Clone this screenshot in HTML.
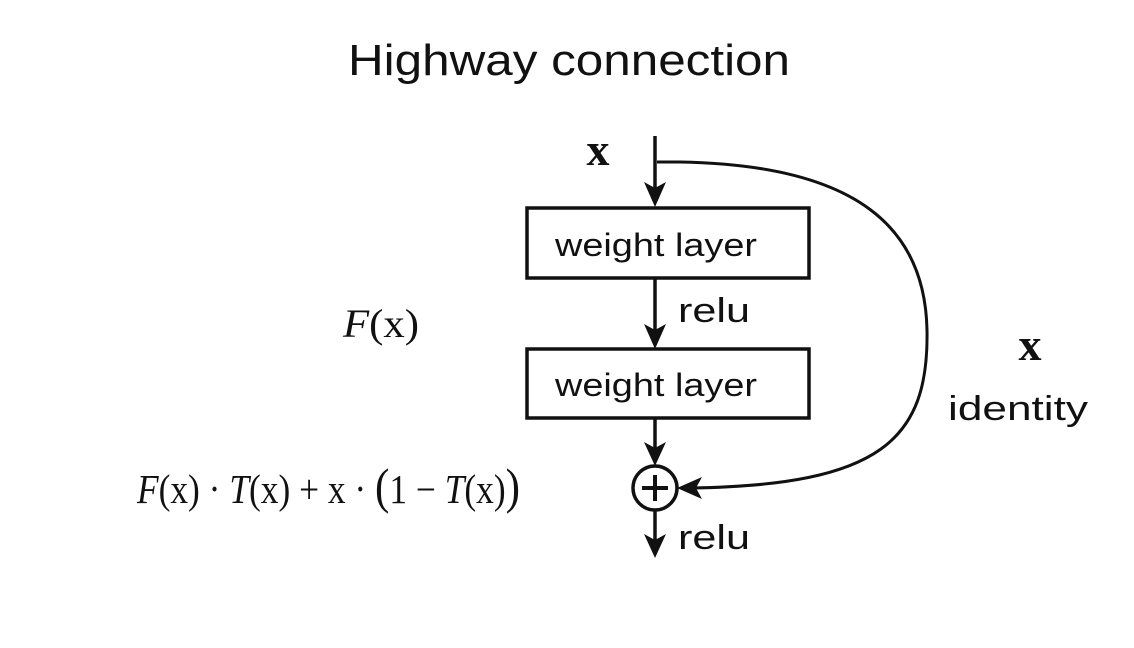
<!DOCTYPE html>
<html><head><meta charset="utf-8"><style>
html,body{margin:0;padding:0;background:#fff;}
svg{display:block;}
.s{font-family:"Liberation Sans","DejaVu Sans",sans-serif;fill:#111;}
.m{font-family:"Liberation Serif","DejaVu Serif",serif;fill:#111;}
</style></head><body>
<svg width="1134" height="648" viewBox="0 0 1134 648" xmlns="http://www.w3.org/2000/svg">
<text x="348" y="75" class="s" style="font-size:44px" textLength="442" lengthAdjust="spacingAndGlyphs" fill="#222">Highway connection</text>
<text x="598" y="165" text-anchor="middle" class="m" style="font-size:46px;font-weight:bold">x</text>
<g>
<line x1="655" y1="136" x2="655" y2="190" stroke="#111" stroke-width="3.5"/>
<path d="M644,182 L655,207 L666,182 L655,188 Z" fill="#111"/></g>
<rect x="527" y="208" width="282" height="70" fill="none" stroke="#111" stroke-width="3.5"/>
<text x="555" y="256" class="s" style="font-size:32px" textLength="202" lengthAdjust="spacingAndGlyphs">weight layer</text>
<g>
<line x1="655" y1="278" x2="655" y2="332" stroke="#111" stroke-width="3.5"/>
<path d="M644,324 L655,349 L666,324 L655,330 Z" fill="#111"/></g>
<text x="678" y="322" class="s" style="font-size:34px" textLength="72" lengthAdjust="spacingAndGlyphs">relu</text>
<rect x="527" y="349" width="282" height="69" fill="none" stroke="#111" stroke-width="3.5"/>
<text x="555" y="396" class="s" style="font-size:32px" textLength="202" lengthAdjust="spacingAndGlyphs">weight layer</text>
<g>
<line x1="655" y1="418" x2="655" y2="450" stroke="#111" stroke-width="3.5"/>
<path d="M644,442 L655,466 L666,442 L655,448 Z" fill="#111"/></g>
<g>
<circle cx="655" cy="488" r="22" fill="none" stroke="#111" stroke-width="3.5"/>
<line x1="642" y1="488" x2="668" y2="488" stroke="#111" stroke-width="4"/>
<line x1="655" y1="475" x2="655" y2="501" stroke="#111" stroke-width="4"/>
</g>
<g>
<line x1="655" y1="510" x2="655" y2="542" stroke="#111" stroke-width="3.5"/>
<path d="M644,534 L655,558 L666,534 L655,540 Z" fill="#111"/></g>
<text x="678" y="549" class="s" style="font-size:34px" textLength="72" lengthAdjust="spacingAndGlyphs">relu</text>
<g>
<path d="M657,162 L680,162 C860,165 925,230 927,330 C929,440 880,485 692,488" fill="none" stroke="#111" stroke-width="3"/>
<path d="M702,477 L677,488 L702,499 L696,488 Z" fill="#111"/></g>
<text x="1030" y="360" text-anchor="middle" class="m" style="font-size:46px;font-weight:bold">x</text>
<text x="948" y="420" class="s" style="font-size:34px" textLength="140" lengthAdjust="spacingAndGlyphs">identity</text>
<text x="343" y="337" class="m" style="font-size:40px" textLength="76" lengthAdjust="spacingAndGlyphs"><tspan font-style="italic">F</tspan>(x)</text>
<text x="137" y="503" class="m" style="font-size:41px" textLength="383" lengthAdjust="spacingAndGlyphs"><tspan font-style="italic">F</tspan>(x) · <tspan font-style="italic">T</tspan>(x) + x · <tspan style="font-size:50px">(</tspan>1 − <tspan font-style="italic">T</tspan>(x)<tspan style="font-size:50px">)</tspan></text>
</svg>
</body></html>
